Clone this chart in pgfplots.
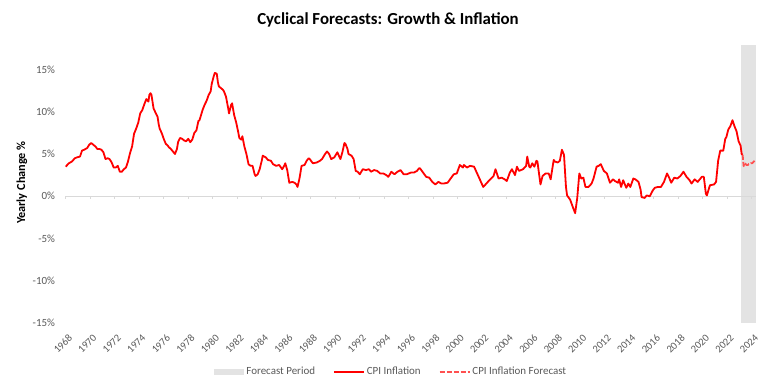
\documentclass[border=0pt]{standalone}
\usepackage{pgfplots}
\pgfplotsset{compat=1.18}
\usepackage{fontspec}
\setmainfont{Carlito}
\definecolor{tickgray}{RGB}{89,89,89}
\definecolor{bandgray}{RGB}{227,227,227}
\definecolor{zerogray}{RGB}{217,217,217}
\definecolor{fcred}{RGB}{255,80,80}
\begin{document}
\begin{tikzpicture}[x=1bp,y=1bp]
\path[use as bounding box] (0,0) rectangle (776,390);
\node[font=\fontsize{16.9}{19}\selectfont\bfseries] at (388,370) {Cyclical Forecasts: Growth \& Inflation};
\begin{axis}[
  at={(65.7bp,67bp)}, anchor=south west,
  scale only axis, width=689.8bp, height=278bp,
  xmin=1968, xmax=2024.3, ymin=-15, ymax=17.9,
  axis line style={draw=none},
  major tick length=0pt,
  xtick={1968,1970,...,2024},
  xticklabels={1968,1970,1972,1974,1976,1978,1980,1982,1984,1986,1988,1990,1992,1994,1996,1998,2000,2002,2004,2006,2008,2010,2012,2014,2016,2018,2020,2022,2024},
  xticklabel style={rotate=45, anchor=north east, inner sep=0pt, xshift=-6bp, yshift=-9bp, font=\fontsize{10.5}{12}\selectfont, text=tickgray},
  ytick={-15,-10,...,15},
  yticklabels={-15\%,-10\%,-5\%,0\%,5\%,10\%,15\%},
  yticklabel style={anchor=east, inner sep=0pt, xshift=-10.5bp, font=\fontsize{11}{13}\selectfont, text=tickgray},
  ylabel={Yearly Change \%},
  ylabel style={at={(axis description cs:-0.0634,0.505)}, anchor=center, rotate=0, font=\fontsize{12.3}{14}\selectfont\bfseries},
  legend columns=3,
  legend style={at={(axis description cs:0.472,-0.176)}, anchor=center, draw=none, fill=none,
    font=\fontsize{11}{13}\selectfont, text=tickgray,
    /tikz/every even column/.append style={column sep=16bp}},
  legend image code/.code={\draw[#1] (0bp,0bp) -- (30bp,0bp);},
  clip=false,
]
\addplot[draw=none, fill=bandgray,
  legend image code/.code={\fill[bandgray] (0bp,-3bp) rectangle (30bp,3bp);}]
  coordinates {(2023.1,-15) (2023.1,17.9) (2024.3,17.9) (2024.3,-15)} -- cycle;
\addlegendentry{Forecast Period}
\addplot[zerogray, line width=0.8bp, forget plot] coordinates {(1968,0) (2024.3,0)};
\pgfplotsinvokeforeach{1968,1970,...,2024}{\draw[zerogray, line width=0.8bp] (axis cs:#1,0) -- ++(0pt,-3bp);}
\addplot[red, line width=1.8bp, line join=round] coordinates {
(1968.00,3.5) (1968.25,3.9) (1968.50,4.1) (1968.75,4.5) (1968.92,4.6)
(1969.17,4.7) (1969.33,5.4) (1969.50,5.5) (1969.75,5.7) (1969.92,6.1)
(1970.08,6.3) (1970.25,6.1) (1970.42,5.9) (1970.58,5.6) (1970.75,5.6) (1970.92,5.5)
(1971.08,5.2) (1971.25,4.4) (1971.42,4.5) (1971.58,4.4) (1971.75,4.0) (1971.92,3.4)
(1972.08,3.4) (1972.25,3.6) (1972.42,2.9) (1972.58,2.9) (1972.75,3.2) (1972.92,3.4)
(1973.08,4.1) (1973.25,5.1) (1973.42,5.9) (1973.58,7.4) (1973.75,8.0) (1973.92,8.7)
(1974.08,9.8) (1974.25,10.2) (1974.42,10.9) (1974.58,11.5) (1974.75,11.2) (1974.83,12.0) (1974.92,12.2)
(1975.00,12.0) (1975.17,10.4) (1975.33,9.9) (1975.50,9.4) (1975.58,8.6) (1975.67,8.0) (1975.83,7.5)
(1976.00,6.8) (1976.17,6.2) (1976.33,6.0) (1976.42,5.8) (1976.58,5.6) (1976.75,5.3) (1976.92,5.0)
(1977.08,5.6) (1977.17,6.4) (1977.33,6.9) (1977.50,6.8) (1977.67,6.6) (1977.83,6.5)
(1978.00,6.8) (1978.17,6.4) (1978.33,6.7) (1978.50,7.5) (1978.67,7.8) (1978.83,8.9) (1978.92,9.0)
(1979.17,10.2) (1979.33,10.8) (1979.50,11.3) (1979.67,12.0) (1979.83,12.4) (1979.92,13.3)
(1980.08,14.2) (1980.17,14.6) (1980.33,14.5) (1980.42,13.5) (1980.50,13.0) (1980.67,12.8) (1980.83,12.6) (1980.92,12.4)
(1981.08,11.8) (1981.25,10.5) (1981.33,9.8) (1981.50,10.8) (1981.58,11.0) (1981.75,9.6) (1981.92,8.7)
(1982.08,7.6) (1982.17,6.9) (1982.33,6.7) (1982.42,7.1) (1982.58,5.9) (1982.75,5.0) (1982.92,3.8)
(1983.08,3.6) (1983.25,3.6) (1983.42,2.6) (1983.50,2.4) (1983.67,2.6) (1983.83,3.2)
(1984.00,4.2) (1984.08,4.8) (1984.33,4.6) (1984.50,4.3) (1984.75,4.2) (1984.92,3.8)
(1985.17,3.6) (1985.42,3.7) (1985.67,3.2) (1985.83,3.6) (1985.92,3.9)
(1986.08,3.1) (1986.25,1.6) (1986.50,1.7) (1986.67,1.6) (1986.83,1.4) (1986.92,1.1)
(1987.08,2.1) (1987.25,3.6) (1987.50,3.7) (1987.67,4.2) (1987.83,4.5) (1987.92,4.4)
(1988.17,3.9) (1988.50,4.0) (1988.75,4.2) (1988.92,4.4)
(1989.17,5.0) (1989.33,5.3) (1989.50,5.0) (1989.67,4.4) (1989.92,4.6)
(1990.17,5.2) (1990.42,4.4) (1990.58,5.2) (1990.75,6.3) (1990.83,6.2)
(1991.00,5.6) (1991.08,5.0) (1991.33,4.8) (1991.50,4.4) (1991.67,3.0) (1991.83,2.9)
(1992.00,2.6) (1992.25,3.2) (1992.50,3.1) (1992.75,3.2) (1992.92,2.9)
(1993.17,3.1) (1993.42,3.0) (1993.67,2.7) (1993.92,2.7)
(1994.17,2.5) (1994.33,2.3) (1994.58,2.9) (1994.83,2.6)
(1995.08,2.9) (1995.33,3.1) (1995.58,2.6) (1995.83,2.6)
(1996.17,2.8) (1996.42,2.8) (1996.67,3.0) (1996.83,3.3) (1996.92,3.3)
(1997.17,2.8) (1997.42,2.3) (1997.67,2.2) (1997.92,1.7)
(1998.17,1.4) (1998.42,1.7) (1998.67,1.5) (1998.83,1.5)
(1999.17,1.6) (1999.42,2.1) (1999.67,2.6) (1999.92,2.7)
(2000.17,3.7) (2000.42,3.4) (2000.50,3.7) (2000.75,3.4)
(2001.00,3.6) (2001.33,3.5) (2001.58,2.7) (2001.83,1.9) (2001.92,1.6)
(2002.08,1.1) (2002.33,1.5) (2002.58,1.9) (2002.92,2.4)
(2003.08,3.2) (2003.33,2.1) (2003.58,2.2) (2003.83,2.0)
(2004.00,1.8) (2004.25,2.8) (2004.42,3.2) (2004.67,2.5) (2004.83,3.5)
(2005.00,3.0) (2005.33,3.2) (2005.58,3.6) (2005.67,4.7) (2005.83,3.5) (2005.92,3.4)
(2006.08,3.9) (2006.25,3.5) (2006.42,4.2) (2006.50,4.1) (2006.75,1.4) (2006.92,2.4)
(2007.17,2.7) (2007.42,2.7) (2007.58,2.0) (2007.83,4.3) (2007.92,4.1)
(2008.17,4.0) (2008.33,4.2) (2008.50,5.5) (2008.67,4.9) (2008.83,1.1) (2008.92,0.1)
(2009.17,-0.4) (2009.42,-1.4) (2009.58,-2.0) (2009.75,-0.2) (2009.92,2.7)
(2010.08,2.1) (2010.25,2.2) (2010.42,1.1) (2010.67,1.1) (2010.92,1.5)
(2011.08,2.1) (2011.33,3.5) (2011.50,3.6) (2011.67,3.8) (2011.92,3.0)
(2012.17,2.7) (2012.42,1.6) (2012.67,2.0) (2012.83,1.8)
(2013.08,1.6) (2013.17,2.0) (2013.33,1.1) (2013.50,1.9) (2013.75,1.0) (2013.92,1.5)
(2014.08,1.1) (2014.33,2.1) (2014.50,2.0) (2014.75,1.7) (2014.92,0.8)
(2015.00,-0.1) (2015.25,-0.2) (2015.42,0.1) (2015.67,0.0) (2015.92,0.7)
(2016.08,1.0) (2016.33,1.1) (2016.58,1.1) (2016.83,1.7)
(2017.08,2.7) (2017.25,2.2) (2017.42,1.6) (2017.67,2.2) (2017.92,2.1)
(2018.17,2.4) (2018.42,2.9) (2018.67,2.3) (2018.92,1.9)
(2019.08,1.5) (2019.33,2.0) (2019.58,1.7) (2019.92,2.3)
(2020.08,2.3) (2020.25,0.3) (2020.33,0.1) (2020.58,1.3) (2020.92,1.4)
(2021.08,1.7) (2021.25,4.2) (2021.42,5.4) (2021.67,5.4) (2021.83,6.8) (2021.92,7.0)
(2022.08,7.9) (2022.25,8.3) (2022.42,9.0) (2022.58,8.3) (2022.75,7.7) (2022.92,6.5)
(2023.08,6.0) (2023.17,5.0) (2023.25,4.9)
};
\addlegendentry{CPI Inflation}
\addplot[fcred, line width=1.8bp, dash pattern=on 5bp off 2bp] coordinates {
(2023.25,4.9) (2023.33,3.6) (2023.42,3.5) (2023.50,3.8) (2023.58,3.7) (2023.67,3.7)
(2023.75,3.8) (2023.83,3.8) (2023.92,3.9) (2024.00,3.9) (2024.10,4.0) (2024.22,4.2)
};
\addlegendentry{CPI Inflation Forecast}
\end{axis}
\end{tikzpicture}
\end{document}
